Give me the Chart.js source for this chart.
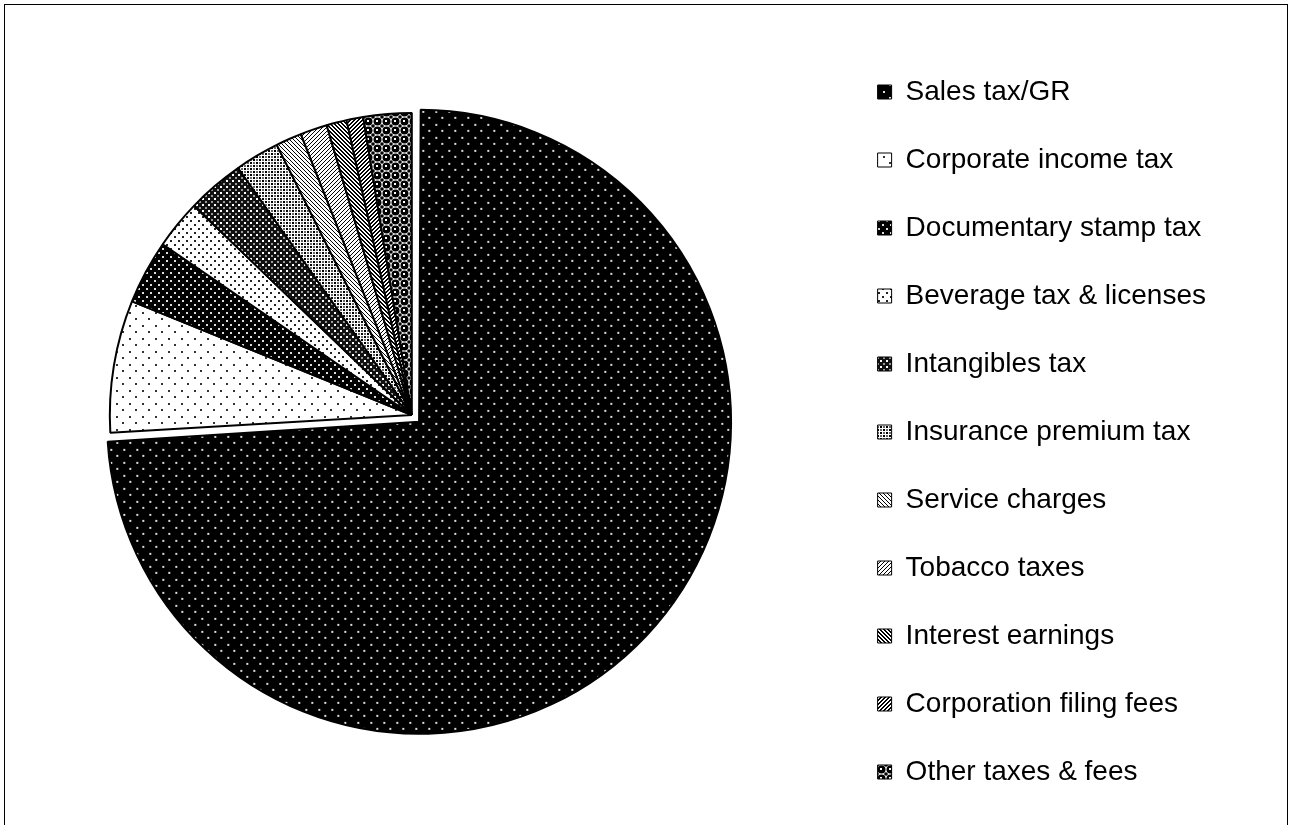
<!DOCTYPE html>
<html>
<head>
<meta charset="utf-8">
<script src="https://cdn.jsdelivr.net/npm/chart.js@4.4.1/dist/chart.umd.min.js"></script>
<style>
  html, body { margin: 0; padding: 0; overflow: hidden; background: #fff; }
  #frame { position: absolute; left: 4px; top: 4px; width: 1284px; height: 900px; border: 1px solid #000; box-sizing: border-box; }
  #revenueChart { position: absolute; left: -14px; top: 0; }
</style>
</head>
<body>
<div id="frame"></div>
<canvas id="revenueChart" width="1305" height="830"></canvas>
<script>
// revenue sources, share of total (%)
const sources = [
  'Sales tax/GR',
  'Corporate income tax',
  'Documentary stamp tax',
  'Beverage tax & licenses',
  'Intangibles tax',
  'Insurance premium tax',
  'Service charges',
  'Tobacco taxes',
  'Interest earnings',
  'Corporation filing fees',
  'Other taxes & fees'
];
const shares = [74.1, 7.07, 3.43, 2.61, 3.07, 2.38, 1.39, 1.44, 1.08, 0.89, 2.58];

// little helper to build a fill pattern from a tile
const makePattern = (size, draw) => {
  const c = document.createElement('canvas');
  c.width = size;
  c.height = size;
  const g = c.getContext('2d');
  draw(g, size);
  return g.createPattern(c, 'repeat');
};

const dots = (bg, fg, size, pts, d) => makePattern(size, (g, s) => {
  g.fillStyle = bg;
  g.fillRect(0, 0, s, s);
  g.fillStyle = fg;
  pts.forEach(p => g.fillRect(p[0], p[1], d, d));
});

const stripes = (dir, thick) => makePattern(4, (g, s) => {
  g.fillStyle = '#fff';
  g.fillRect(0, 0, s, s);
  g.fillStyle = '#000';
  for (let i = 0; i < s; i++) {
    const x = dir === 'down' ? i : s - 1 - i;
    g.fillRect(x, i, 1, 1);
    if (thick) g.fillRect((x + 1) % s, i, 1, 1);
  }
});

const balls = makePattern(9, (g, s) => {
  g.fillStyle = '#fff';
  g.fillRect(0, 0, s, s);
  g.fillStyle = '#000';
  [[4.5, 4.5], [0, 0], [9, 0], [0, 9], [9, 9]].forEach(p => {
    g.beginPath();
    g.arc(p[0], p[1], p[0] === 4.5 ? 4 : 1.8, 0, Math.PI * 2);
    g.fill();
  });
  g.fillStyle = '#fff';
  g.fillRect(3, 3, 2, 2);
});

const fills = [
  dots('#000', '#ddd', 13, [[0, 0], [6, 6]], 2),
  dots('#fff', '#333', 13, [[0, 0], [6, 6]], 2),
  dots('#000', '#ddd', 8, [[0, 0], [4, 4]], 2),
  dots('#fff', '#222', 8, [[0, 0], [4, 4]], 2),
  makePattern(6, (g, s) => {
    g.fillStyle = '#111'; g.fillRect(0, 0, s, s);
    g.fillStyle = '#fff'; g.fillRect(0, 0, 2, 2);
    g.fillStyle = '#999'; g.fillRect(3, 3, 2, 2);
  }),
  makePattern(6, (g, s) => {
    g.fillStyle = '#fff'; g.fillRect(0, 0, s, s);
    g.fillStyle = '#000'; g.fillRect(0, 0, 2, 2); g.fillRect(3, 3, 2, 2);
    g.fillStyle = '#666'; g.fillRect(3, 0, 2, 2); g.fillRect(0, 3, 2, 2);
  }),
  stripes('down', false),
  stripes('up', false),
  stripes('down', true),
  stripes('up', true),
  balls
];

const ctx = document.getElementById('revenueChart').getContext('2d');
const defaultLabels = Chart.overrides.pie.plugins.legend.labels.generateLabels;

new Chart(ctx, {
  type: 'pie',
  data: {
    labels: sources,
    datasets: [{
      data: shares,
      backgroundColor: fills,
      borderColor: '#000',
      borderWidth: 2,
      radius: 302,
      offset: c => (c.dataIndex === 0 ? 40 : 0)
    }]
  },
  options: {
    responsive: false,
    animation: false,
    layout: { padding: { top: 38, left: 0, right: 75, bottom: 0 } },
    plugins: {
      tooltip: { enabled: false },
      // empty bottom title, only used to lift the pie a little
      title: {
        display: true,
        position: 'bottom',
        fullSize: false,
        text: '',
        font: { size: 10 },
        padding: { top: 0, bottom: 26 }
      },
      legend: {
        position: 'right',
        align: 'start',
        labels: {
          boxWidth: 14,
          boxHeight: 14,
          padding: 40,
          color: '#000',
          font: { family: "'Liberation Sans', Arial, sans-serif", size: 28 },
          generateLabels: chart => defaultLabels(chart).map(l => ({ ...l, lineWidth: 1 }))
        }
      }
    }
  }
});
</script>
</body>
</html>
